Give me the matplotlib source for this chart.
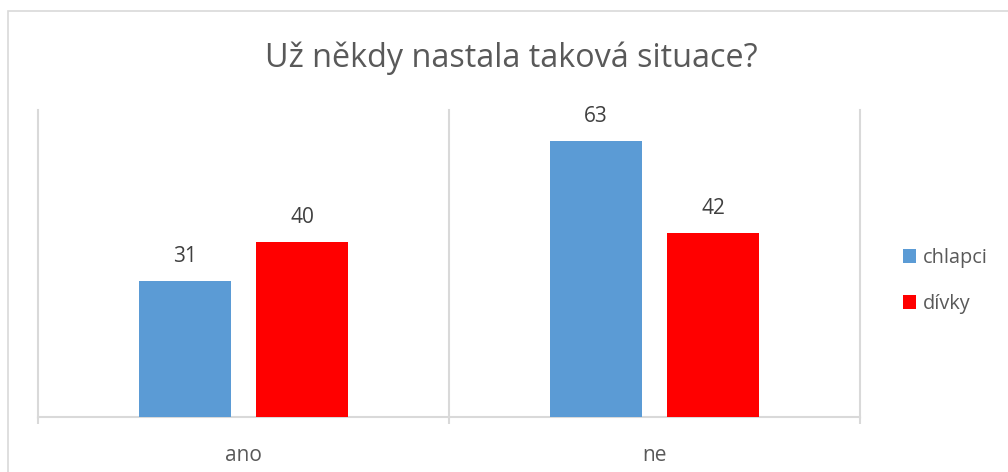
import numpy as np
import matplotlib
matplotlib.use("Agg")
import matplotlib.pyplot as plt
from matplotlib.patches import Rectangle

kategorie = ["ano", "ne"]
serie = ["chlapci", "dívky"]
chlapci = [31, 63]
divky = [40, 42]
barvy = ["#5B9BD5", "#FF0000"]

plt.rcParams["font.family"] = ["Open Sans", "DejaVu Sans"]

fig = plt.figure(figsize=(10.08, 4.72), dpi=100)
ax = fig.add_axes([38 / 1008, 55 / 472, 822 / 1008, 307 / 472])

# ramecek kolem celeho grafu (pravy a spodni okraj jsou mimo obrazek)
fig.patches.append(Rectangle((8 / 1008, -0.2), 1.2, 1.2 - 11 / 472,
                             transform=fig.transFigure, fill=False,
                             edgecolor="#D9D9D9", linewidth=1.2))

x = np.arange(len(kategorie))
sirka = 0.224
posun = 0.1425

for hodnoty, nazev, barva, d in zip([chlapci, divky], serie, barvy, [-posun, posun]):
    sloupce = ax.bar(x + d, hodnoty, width=sirka, color=barva, label=nazev, zorder=3)
    for s, v in zip(sloupce, hodnoty):
        ax.text(s.get_x() + s.get_width() / 2, v + 4.3, str(v),
                ha="center", va="baseline", fontsize=15, color="#404040")

ax.set_xlim(-0.5, len(kategorie) - 0.5)
ax.set_ylim(0, 70)

# svisle mrizky na hranicich kategorii
hranice = np.arange(len(kategorie) + 1) - 0.5
for h in hranice:
    ax.plot([h, h], [0, 70], color="#D9D9D9", linewidth=1.5, zorder=1, clip_on=False)

for s in ["top", "right", "left"]:
    ax.spines[s].set_visible(False)
ax.spines["bottom"].set_color("#D9D9D9")
ax.spines["bottom"].set_linewidth(1.5)

ax.set_yticks([])
ax.set_xticks(hranice)
ax.set_xticklabels([])
ax.tick_params(axis="x", which="major", length=5, width=1.5, color="#D9D9D9")
ax.set_xticks(x, minor=True)
ax.set_xticklabels(kategorie, minor=True)
ax.tick_params(axis="x", which="minor", length=0, pad=20, labelsize=15, labelcolor="#595959")

fig.text(511 / 1008, 1 - 58 / 472, "Už někdy nastala taková situace?",
         ha="center", va="center", fontsize=23.3, color="#595959")

leg = ax.legend(loc="center left", bbox_to_anchor=(893 / 1008, 1 - 281 / 472),
                bbox_transform=fig.transFigure, frameon=False, borderpad=0,
                fontsize=14.3, handlelength=0.65, handleheight=0.65, handletextpad=0.35,
                labelspacing=1.3)
for t in leg.get_texts():
    t.set_color("#595959")

fig.savefig("out.png", dpi=100)
